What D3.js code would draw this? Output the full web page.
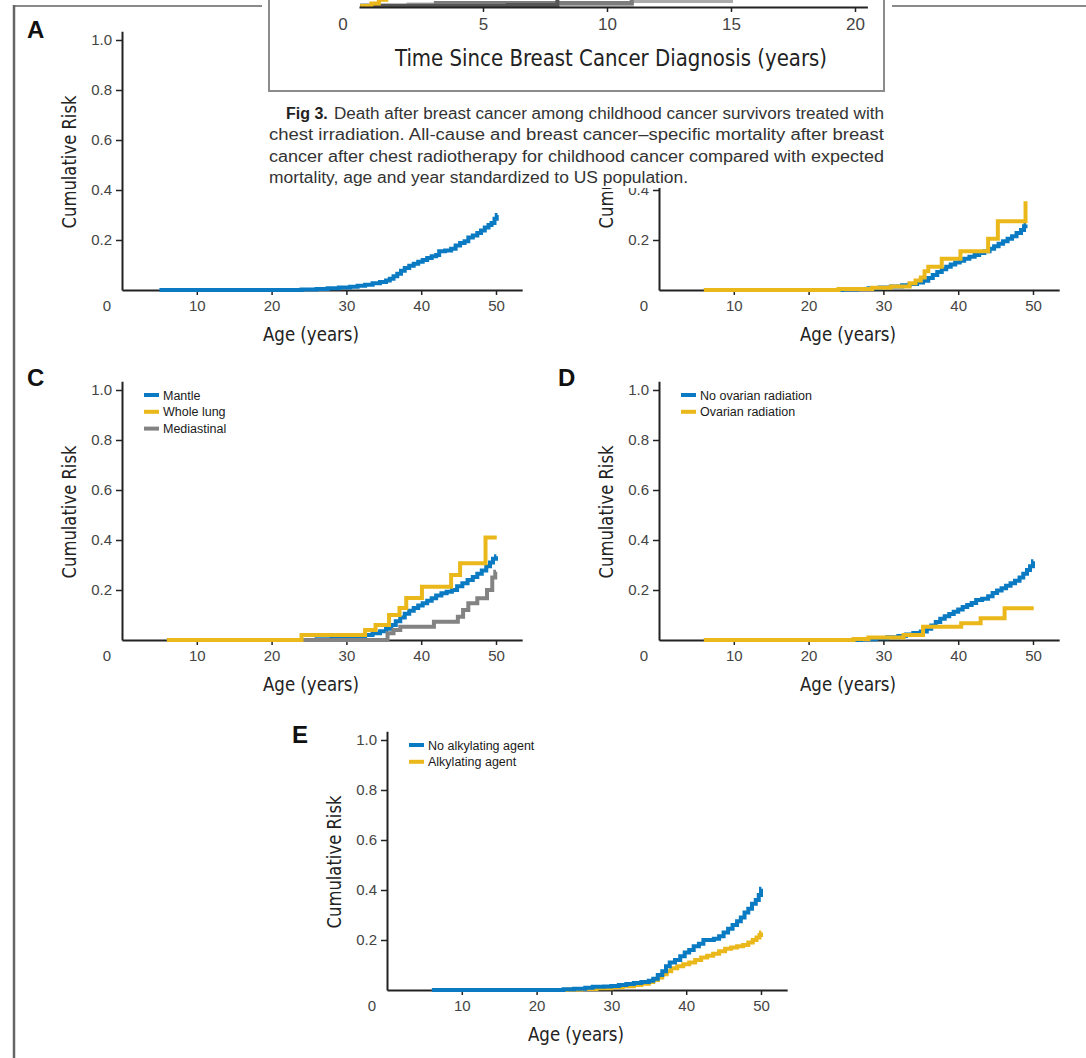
<!DOCTYPE html>
<html>
<head>
<meta charset="utf-8">
<script src="https://d3js.org/d3.v7.min.js"></script>
<style>
  body { margin: 0; background: #fff; }
  svg { display: block; }
  .tick text { font-family: "Liberation Sans", Arial, sans-serif; font-size: 15px; fill: #444; }
  .axis path, .axis line { stroke: #222; }
  .axis path { stroke-width: 2; }
  .axis line { stroke-width: 1.5; }
  .title { font-family: "Liberation Sans Narrow", "DejaVu Sans Condensed", "Arial Narrow", sans-serif; font-size: 20px; fill: #222; }
  .letter { font-family: "Liberation Sans", Arial, sans-serif; font-weight: bold; font-size: 24px; fill: #111; }
  .legend { font-family: "Liberation Sans", Arial, sans-serif; font-size: 12.5px; fill: #1a1a1a; }
  .caption { font-family: "Liberation Sans", Arial, sans-serif; font-size: 16px; fill: #333; }
</style>
</head>
<body>
<div id="chart"></div>
<script>

// ---- data ----
var ageTicks = [10, 20, 30, 40, 50];
var riskTicks = [0.2, 0.4, 0.6, 0.8, 1.0];
var insetTicks = [5, 10, 15, 20];

// [age, cumulative risk]
var riskA = [[5,0],[24,0.002],[26,0.004],[27.5,0.007],[29,0.01],[30.5,0.013],[31.5,0.017],[32.5,0.021],[33.5,0.027],[34.5,0.032],[35.3,0.038],[35.8,0.045],[36.3,0.055],[36.8,0.065],[37.3,0.077],[37.8,0.088],[38.4,0.097],[39,0.105],[39.6,0.113],[40.2,0.12],[40.8,0.128],[41.4,0.135],[42,0.14],[42.4,0.155],[43.2,0.158],[44,0.165],[44.6,0.178],[45.2,0.188],[45.8,0.195],[46.3,0.21],[46.9,0.218],[47.5,0.228],[48,0.238],[48.5,0.25],[49,0.26],[49.4,0.268],[49.8,0.285],[50.1,0.3],[50.2,0.3]];

var riskB_blue = [[6,0],[24.5,0.002],[26.5,0.004],[28,0.007],[29.5,0.01],[31,0.014],[32.5,0.019],[33.5,0.024],[34.5,0.03],[35.3,0.037],[36,0.048],[36.6,0.06],[37.2,0.072],[37.8,0.083],[38.4,0.093],[39,0.102],[39.6,0.11],[40.2,0.117],[40.8,0.125],[41.5,0.133],[42.2,0.14],[42.8,0.148],[43.5,0.155],[44.2,0.165],[44.8,0.175],[45.4,0.185],[46,0.195],[46.6,0.205],[47.2,0.215],[47.8,0.228],[48.4,0.24],[48.8,0.255],[49,0.262],[49.05,0.262]];
var riskB_yellow = [[6,0],[24,0.004],[28.5,0.009],[31,0.014],[33.5,0.027],[34.3,0.038],[35,0.05],[35.5,0.075],[36,0.093],[37.8,0.125],[40.3,0.155],[44,0.205],[45.3,0.275],[49,0.355]];

var mantle = [[6,0],[26,0.003],[28,0.006],[30,0.01],[31.5,0.015],[32.5,0.02],[33.5,0.027],[34.5,0.035],[35.3,0.045],[36,0.06],[36.6,0.075],[37.2,0.09],[37.8,0.105],[38.4,0.117],[39,0.128],[39.6,0.138],[40.2,0.147],[40.8,0.157],[41.4,0.167],[42,0.178],[42.7,0.187],[43.4,0.193],[44.1,0.2],[44.8,0.215],[45.5,0.227],[46.2,0.24],[46.9,0.252],[47.5,0.265],[48.1,0.278],[48.7,0.295],[49.2,0.31],[49.6,0.325],[50,0.335],[50.05,0.335]];
var wholeLung = [[6,0],[24,0.02],[32.5,0.04],[33.9,0.06],[35.7,0.1],[37.1,0.128],[38,0.168],[40.1,0.213],[44,0.26],[45.2,0.307],[48.6,0.41],[50.1,0.41]];
var mediastinal = [[6,0],[35.5,0.027],[36.3,0.04],[37.2,0.053],[41.7,0.073],[44.9,0.093],[45.6,0.12],[46.3,0.147],[47.5,0.167],[48.8,0.2],[49.5,0.25],[49.9,0.273],[50,0.273]];

var noOvarian = [[6,0],[27,0.003],[29,0.007],[30.5,0.011],[32,0.016],[33,0.022],[34,0.028],[35,0.034],[35.8,0.045],[36.4,0.058],[37,0.072],[37.6,0.085],[38.2,0.095],[38.8,0.104],[39.4,0.113],[40,0.122],[40.6,0.132],[41.2,0.14],[41.8,0.148],[42.4,0.16],[43.2,0.165],[44,0.175],[44.6,0.188],[45.2,0.198],[45.8,0.207],[46.4,0.217],[47,0.227],[47.6,0.237],[48.2,0.25],[48.7,0.265],[49.2,0.28],[49.6,0.295],[50,0.315],[50.05,0.315]];
var ovarian = [[6,0],[26,0.004],[28,0.01],[32.7,0.02],[35.3,0.053],[40.4,0.067],[43,0.087],[46.2,0.127],[50.1,0.127]];

var noAlkylating = [[6,0],[23.6,0.003],[25,0.005],[26.5,0.009],[27.5,0.013],[29,0.014],[30,0.016],[31,0.02],[32,0.024],[33,0.028],[34,0.032],[35,0.037],[35.6,0.045],[36.2,0.06],[36.8,0.075],[37.3,0.095],[37.8,0.11],[38.5,0.12],[39.2,0.135],[39.8,0.15],[40.4,0.16],[41,0.175],[41.7,0.185],[42.3,0.2],[43,0.2],[43.7,0.205],[44.4,0.215],[45,0.23],[45.6,0.245],[46.2,0.26],[46.8,0.275],[47.3,0.29],[47.8,0.31],[48.3,0.325],[48.8,0.345],[49.3,0.36],[49.7,0.38],[50,0.405],[50.05,0.405]];
var alkylating = [[6,0],[24,0.002],[26,0.004],[28,0.007],[30,0.011],[31.5,0.015],[33,0.02],[34,0.025],[35,0.032],[35.6,0.04],[36.2,0.05],[36.8,0.063],[37.4,0.075],[38,0.087],[38.8,0.095],[39.6,0.103],[40.4,0.11],[41.2,0.12],[42,0.13],[42.8,0.137],[43.6,0.145],[44.4,0.155],[45.2,0.165],[46,0.17],[46.8,0.175],[47.6,0.18],[48.3,0.19],[48.9,0.2],[49.4,0.21],[49.8,0.22],[50,0.23],[50.05,0.23]];

// Fig 3 inset (only the lowest part is on the page): [years since diagnosis, mortality]
var insetYellow = [[0.05,0],[0.5,0.01],[0.8,0.025],[1.1,0.06],[1.6,0.12]];
var insetLight = [[0.05,0],[2,0.006],[11,0.02],[15,0.06]];
var insetGray = [[0.05,0.002],[3.1,0.012],[11,0.05]];
var insetDark = [[0.05,0],[6,0.004],[8,0.05]];

var captionLines = [
  "Death after breast cancer among childhood cancer survivors treated with",
  "chest irradiation. All-cause and breast cancer\u2013specific mortality after breast",
  "cancer after chest radiotherapy for childhood cancer compared with expected",
  "mortality, age and year standardized to US population."
];

// ---- drawing ----
var W = 1086, H = 1058;
var blue = "#0a7bc2", yellow = "#ebb81b", gray = "#838383";

var svg = d3.select("#chart").append("svg")
    .attr("width", W)
    .attr("height", H);

svg.append("rect").attr("width", W).attr("height", H).attr("fill", "#fff");

// the part of panel B that is not under the Fig 3 overlay
svg.append("clipPath").attr("id", "belowCaption")
    .append("rect").attr("x", 0).attr("y", 188).attr("width", W).attr("height", H);

// page frame
svg.append("line").attr("x1", 14).attr("x2", W).attr("y1", 6).attr("y2", 6)
    .attr("stroke", "#8a8a8a").attr("stroke-width", 2);
svg.append("line").attr("x1", 14).attr("x2", 14).attr("y1", 5).attr("y2", H)
    .attr("stroke", "#666").attr("stroke-width", 2.5);

var panels = [
    { letter: "A", ox: 122, oy: 290, lx: 27, ly: 38, yTicks: riskTicks,
      series: [{ data: riskA, color: blue }], legend: [] },
    { letter: "", ox: 659, oy: 290, clip: true, yTicks: [0.2, 0.4],
      series: [{ data: riskB_blue, color: blue }, { data: riskB_yellow, color: yellow }], legend: [] },
    { letter: "C", ox: 122, oy: 640, lx: 27, ly: 386, yTicks: riskTicks,
      series: [{ data: mantle, color: blue }, { data: mediastinal, color: gray }, { data: wholeLung, color: yellow }],
      legend: [["Mantle", blue], ["Whole lung", yellow], ["Mediastinal", gray]] },
    { letter: "D", ox: 659, oy: 640, lx: 558, ly: 386, yTicks: riskTicks,
      series: [{ data: noOvarian, color: blue }, { data: ovarian, color: yellow }],
      legend: [["No ovarian radiation", blue], ["Ovarian radiation", yellow]] },
    { letter: "E", ox: 387, oy: 990, lx: 292, ly: 743, yTicks: riskTicks,
      series: [{ data: alkylating, color: yellow }, { data: noAlkylating, color: blue }],
      legend: [["No alkylating agent", blue], ["Alkylating agent", yellow]] }
];

function drawPanel(p) {
    var x = d3.scaleLinear().domain([0, 50]).range([p.ox, p.ox + 374]);
    var y = d3.scaleLinear().domain([0, 1]).range([p.oy, p.oy - 250]);
    var g = svg.append("g");
    if (p.clip) g.attr("clip-path", "url(#belowCaption)");

    if (p.letter) g.append("text").attr("class", "letter").attr("x", p.lx).attr("y", p.ly).text(p.letter);

    var xa = d3.scaleLinear().domain([0, 53.5]).range([x(0), x(53.5)]);
    g.append("g").attr("class", "axis")
        .attr("transform", "translate(0," + p.oy + ")")
        .call(d3.axisBottom(xa).tickValues(ageTicks).tickSize(5).tickSizeOuter(0).tickPadding(5));

    var ya = d3.scaleLinear().domain([0, 1.035]).range([y(0), y(1.035)]);
    g.append("g").attr("class", "axis")
        .attr("transform", "translate(" + p.ox + ",0)")
        .call(d3.axisLeft(ya).tickValues(p.yTicks).tickFormat(d3.format(".1f")).tickSize(6).tickSizeOuter(0).tickPadding(4));

    g.selectAll(".axis .domain").attr("fill", "none");

    // shared zero at the corner
    g.append("text")
        .attr("x", p.ox - 15).attr("y", p.oy + 10).attr("dy", "0.71em")
        .attr("text-anchor", "middle")
        .style("font-family", "'Liberation Sans', Arial, sans-serif").style("font-size", "15px").style("fill", "#444")
        .text("0");

    g.append("text").attr("class", "title")
        .attr("x", x(25) + 2).attr("y", p.oy + 51)
        .attr("text-anchor", "middle")
        .attr("textLength", 96).attr("lengthAdjust", "spacingAndGlyphs")
        .text("Age (years)");

    g.append("text").attr("class", "title")
        .attr("transform", "translate(" + (p.ox - 46) + "," + (p.oy - 128) + ") rotate(-90)")
        .attr("text-anchor", "middle")
        .attr("textLength", 133).attr("lengthAdjust", "spacingAndGlyphs")
        .text("Cumulative Risk");

    var line = d3.line()
        .x(function (d) { return x(d[0]); })
        .y(function (d) { return y(d[1]); })
        .curve(d3.curveStepAfter);

    p.series.forEach(function (s) {
        g.append("path").datum(s.data)
            .attr("d", line)
            .attr("fill", "none")
            .attr("stroke", s.color)
            .attr("stroke-width", 4);
    });

    p.legend.forEach(function (item, i) {
        var cy = p.oy - 245 + i * 16.8;
        g.append("rect").attr("x", p.ox + 22).attr("y", cy - 2).attr("width", 15).attr("height", 4).attr("fill", item[1]);
        g.append("text").attr("class", "legend").attr("x", p.ox + 41).attr("y", cy + 4.5).text(item[0]);
    });
}

panels.forEach(drawPanel);

// ---- Fig 3 overlay (bottom of the figure above, with its caption) ----
var ov = svg.append("g");
ov.append("rect").attr("x", 262).attr("y", -5).attr("width", 630).attr("height", 193).attr("fill", "#fff");
ov.append("rect").attr("x", 269).attr("y", -20).attr("width", 615).attr("height", 111)
    .attr("fill", "#fff").attr("stroke", "#8c8c8c").attr("stroke-width", 2);

var ix = d3.scaleLinear().domain([0, 20]).range([359, 855]);
var iy = d3.scaleLinear().domain([0, 1]).range([6, -244]);

var inLine = d3.line()
    .x(function (d) { return ix(d[0]); })
    .y(function (d) { return iy(d[1]); })
    .curve(d3.curveStepAfter);

[[insetLight, "#ababab"], [insetGray, "#7c7c7c"], [insetDark, "#555"], [insetYellow, yellow]].forEach(function (s) {
    ov.append("path").datum(s[0]).attr("d", inLine)
        .attr("fill", "none").attr("stroke", s[1]).attr("stroke-width", 4);
});

var ixa = d3.scaleLinear().domain([0, 20.5]).range([ix(0), ix(20.5)]);
ov.append("g").attr("class", "axis")
    .attr("transform", "translate(0,7)")
    .call(d3.axisBottom(ixa).tickValues(insetTicks).tickSize(5).tickSizeOuter(0).tickPadding(6))
    .selectAll("text").style("font-size", "17px");
ov.selectAll(".axis .domain").attr("fill", "none");
ov.append("text")
    .attr("x", 343).attr("y", 18).attr("dy", "0.71em").attr("text-anchor", "middle")
    .style("font-family", "'Liberation Sans', Arial, sans-serif").style("font-size", "17px").style("fill", "#444")
    .text("0");

ov.append("text").attr("class", "title")
    .attr("x", 611).attr("y", 66).attr("text-anchor", "middle")
    .style("font-size", "23px")
    .attr("textLength", 432).attr("lengthAdjust", "spacingAndGlyphs")
    .text("Time Since Breast Cancer Diagnosis (years)");

// caption
ov.append("text").attr("class", "caption").attr("x", 286).attr("y", 119)
    .style("font-weight", "bold").style("fill", "#222").text("Fig 3.");
var capX = [334, 269, 269, 269], capLen = [550, 615, 615, 419];
captionLines.forEach(function (t, i) {
    ov.append("text").attr("class", "caption")
        .attr("x", capX[i]).attr("y", 119 + i * 21.3)
        .attr("textLength", capLen[i]).attr("lengthAdjust", "spacingAndGlyphs")
        .text(t);
});

</script>
</body>
</html>
